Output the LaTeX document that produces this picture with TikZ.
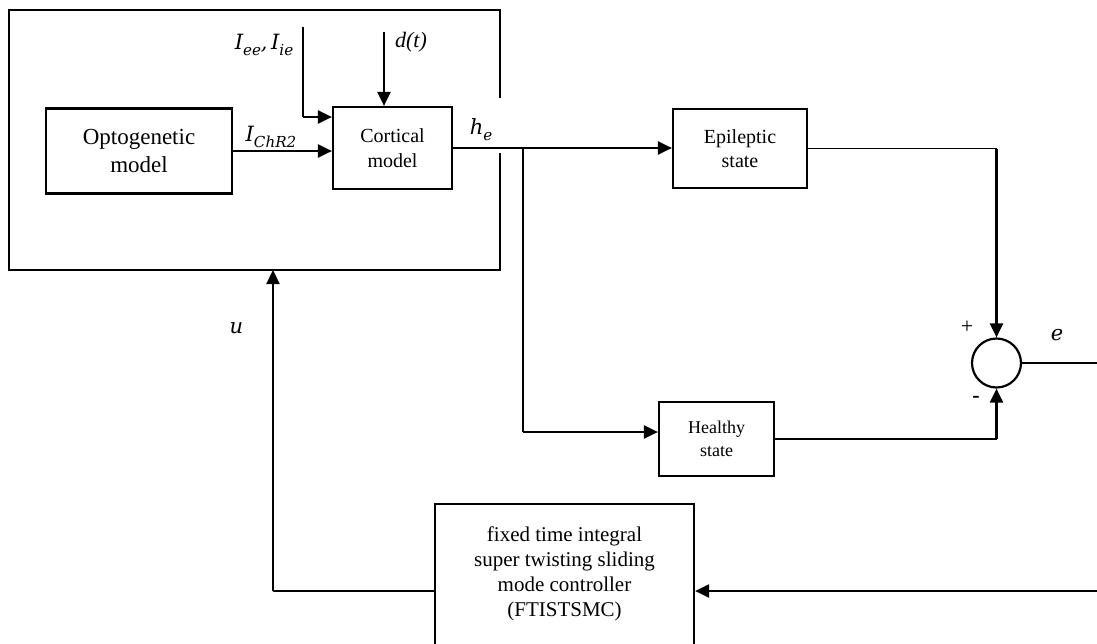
\documentclass[tikz,border=0pt]{standalone}
\usepackage{graphicx}
\usepackage{fontspec}
\setmainfont{Liberation Serif}
\newfontfamily\mfont{DejaVu Serif}
\newcommand{\mv}[1]{{\mfont\itshape #1}}
\newcommand{\msub}[2]{{\mfont\itshape #1\raisebox{-0.28em}{\scalebox{0.72}{#2}}}}
\usetikzlibrary{arrows.meta,calc}
\begin{document}
\begin{tikzpicture}[x=1pt,y=-1pt,
  box/.style={draw,line width=2.2pt,inner sep=0pt,align=center,fill=white},
  thk/.style={line width=2.2pt},
  thn/.style={line width=1.1pt},
  arr/.style={line width=2.2pt,-{Triangle[length=14pt,width=13pt]}},
  lbl/.style={inner sep=0pt}]
\useasboundingbox (0,0) rectangle (1097,643);
\fill[white] (0,0) rectangle (1097,643);

% outer plant frame (with gap at the upper right)
\draw[thk] (500,98) -- (500,10) -- (9,10) -- (9,270) -- (500,270) -- (500,153);
\coordinate (plantbottom) at (273,270);

% blocks
\node[box,minimum width=186pt,minimum height=85pt,font=\fontsize{23}{28}\selectfont] (opto) at (139,151) {Optogenetic\\model};
\node[box,minimum width=119pt,minimum height=82pt,font=\fontsize{20}{25}\selectfont] (cort) at (392.5,148) {Cortical\\model};
\node[box,minimum width=134pt,minimum height=79pt,font=\fontsize{20}{24}\selectfont] (epi) at (740,148.5) {Epileptic\\state};
\node[box,minimum width=115pt,minimum height=74pt,font=\fontsize{18}{23}\selectfont] (healthy) at (716.5,439) {Healthy\\state};
\node[box,minimum width=259pt,minimum height=176pt] (ctrl) at (564.5,592) {};
\node[lbl,align=center,font=\fontsize{21}{25}\selectfont] (ctrltext) at (564.5,573.5) {fixed time integral\\super twisting sliding\\mode controller\\(FTISTSMC)};
\node[draw,circle,line width=2.2pt,minimum size=49pt,inner sep=0pt] (sum) at (996.5,363) {};

% inputs to cortical model
\coordinate (iee) at (303,27);
\coordinate (ieecorner) at (303,117);
\draw[thn] (iee) -- (ieecorner);
\draw[arr] (ieecorner) -- (ieecorner -| cort.west);
\coordinate (dt) at (384,32);
\draw[arr] (dt) -- (dt |- cort.north);
\draw[arr] (opto.east) -- (opto.east -| cort.west);

% output h_e
\draw[arr] (cort.east) -- (cort.east -| epi.west);
\coordinate (br) at (523,148);
\coordinate (brlow) at (523,432);
\draw[thn] (br) -- (brlow);
\draw[arr] (brlow) -- (brlow -| healthy.west);

% to summing junction
\draw[thn] (epi.east) -- (epi.east -| sum.north) coordinate (epicorner);
\draw[arr] (epicorner) -- (sum.north);
\draw[thn] (healthy.east) -- (healthy.east -| sum.south) coordinate (hcorner);
\draw[arr] (hcorner) -- (sum.south);

% error feedback
\coordinate (eend) at (1099.5,363);
\coordinate (fb) at (1099.5,591);
\draw[thn] (sum.east) -- (eend);
\draw[thk] (eend) -- (fb);
\draw[arr] (fb) -- (fb -| ctrl.east);

% control signal u
\coordinate (ucorner) at (273,591);
\draw[thn] (ucorner -| ctrl.west) -- (ucorner);
\draw[arr] (ucorner) -- (plantbottom);

% labels
\node[lbl,font=\fontsize{21}{25}\selectfont] (lbliee) at (264,45) {\msub{I}{ee}\mv{,}\,\msub{I}{ie}};
\node[lbl,font=\fontsize{22}{26}\selectfont] (lbldt) at (411,42) {\textit{d(t)}};
\node[lbl,font=\fontsize{21}{25}\selectfont] (lblichr) at (271,137) {\msub{I}{ChR2}};
\node[lbl,font=\fontsize{21}{25}\selectfont] (lblhe) at (481,130) {\msub{h}{e}};
\node[lbl,font=\fontsize{22}{24}\selectfont] (lblplus) at (967,327) {+};
\node[lbl,font=\fontsize{22}{24}\selectfont\bfseries] (lblminus) at (976,399) {-};
\node[lbl,font=\fontsize{21}{26}\selectfont] (lble) at (1057,335) {\mv{e}};
\node[lbl,font=\fontsize{21}{26}\selectfont] (lblu) at (236.5,328) {\mv{u}};
\end{tikzpicture}
\end{document}
